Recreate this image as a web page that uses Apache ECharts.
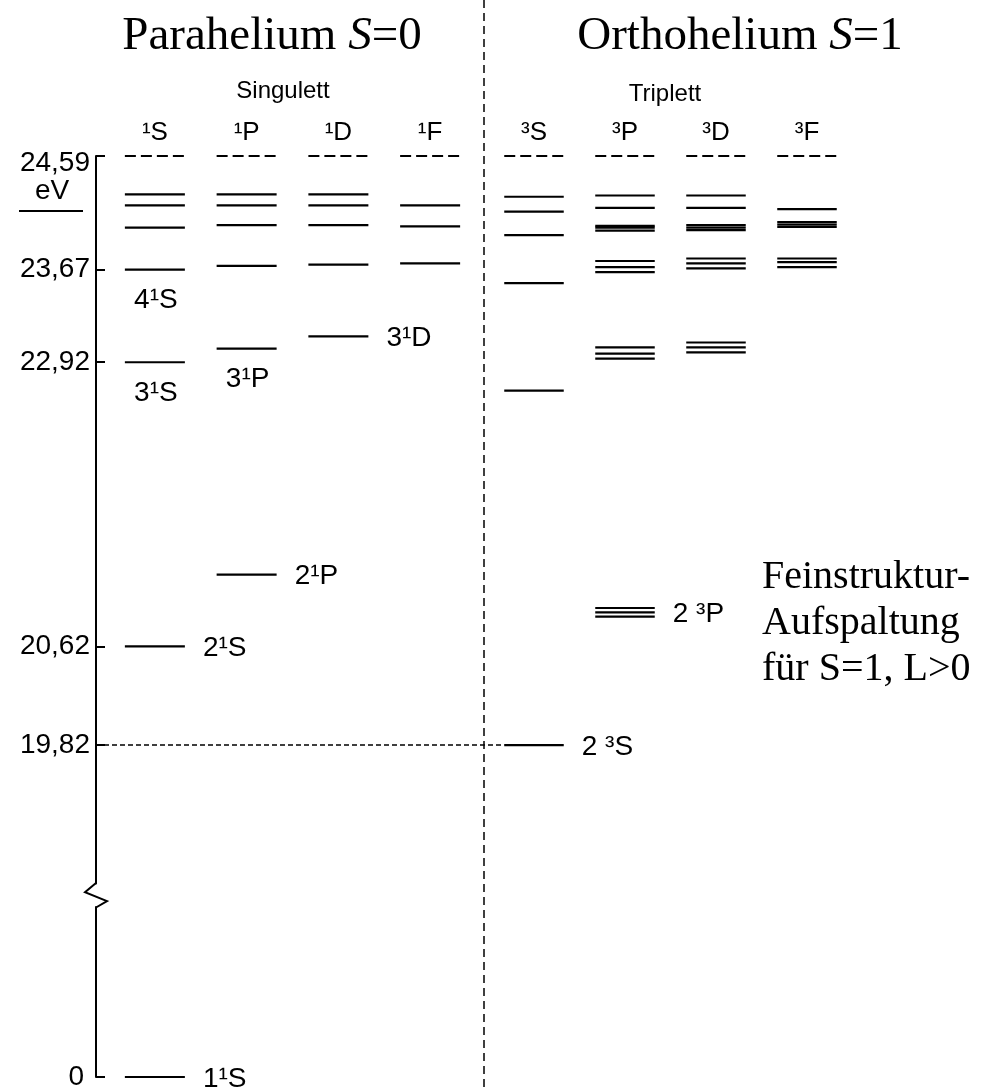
<!DOCTYPE html>
<html><head><meta charset="utf-8">
<script src="https://cdn.jsdelivr.net/npm/echarts@6/dist/echarts.min.js"></script>
<style>html,body{margin:0;padding:0;background:#fff}#c{width:988px;height:1091px}</style>
</head><body><div id="c"></div>
<script>
// ---- data (energies in eV) ----
const singletTerms = ['¹S', '¹P', '¹D', '¹F'];
const tripletTerms = ['³S', '³P', '³D', '³F'];
const ionizationLimit = 24.59;
const levels1S = [24.28, 24.19, 24.01, 23.67, 22.92, 20.62];
const levels1P = [24.28, 24.19, 24.03, 23.70, 23.03, 21.20];
const levels1D = [24.28, 24.19, 24.03, 23.71, 23.13];
const levels1F = [24.19, 24.02, 23.72];
const levels3S = [24.26, 24.14, 23.95, 23.56, 22.69, 19.82];
const levels3P = [24.27, 24.17, 24.025, 24.01, 23.985, 23.74, 23.69, 23.65, 23.04, 22.99, 22.95, 20.93, 20.895, 20.86];
const levels3D = [24.27, 24.17, 24.03, 24.01, 23.99, 23.76, 23.72, 23.68, 23.08, 23.04, 23.00];
const levels3F = [24.16, 24.055, 24.035, 24.015, 23.76, 23.73, 23.69];
const groundLevels = [0];
const tickValues = [24.59, 23.67, 22.92, 20.62, 19.82];
const groundTicks = [0];
// level labels
const singletLabelText = ['4¹S', '3¹S', '3¹P', '3¹D', '2¹P', '2¹S'];
const singletLabelTerm = ['¹S', '¹S', '¹P', '¹D', '¹P', '¹S'];
const singletLabelE = [23.67, 22.92, 23.03, 23.13, 21.20, 20.62];
const singletLabelSide = ['below', 'below', 'below', 'right', 'right', 'right'];
const tripletLabelText = ['2 ³P', '2 ³S'];
const tripletLabelTerm = ['³P', '³S'];
const tripletLabelE = [20.895, 19.82];
const tripletLabelSide = ['right', 'right'];
const groundLabelText = ['1¹S'];
const groundLabelTerm = ['¹S'];
const groundLabelE = [0];
const groundLabelSide = ['right'];
const metastableLevel = 19.82;

// ---- layout / style ----
const SANS = "'Liberation Sans', Arial, Helvetica, sans-serif";
const SERIF = "'Liberation Serif', 'Times New Roman', serif";
const PX_PER_EV = 123.5;
const TOP_MIN = 18.7;
const LEFT_GRID = { left: 109, top: 156, width: 367, height: PX_PER_EV * (ionizationLimit - TOP_MIN) };
const RIGHT_GRID = { left: 488.5, top: 156, width: 364, height: PX_PER_EV * (ionizationLimit - TOP_MIN) };
const LOW_GRID = { left: 109, top: 907, width: 367, height: 170 };
const AXIS_OFFSET = 13;
const HALF = 0.327;

function buildLevels(arrays) {
  const out = [];
  arrays.forEach((arr, i) => {
    out.push([i, ionizationLimit, 1]);
    arr.forEach(e => out.push([i, e, 0]));
  });
  return out;
}
function renderLevel(params, api) {
  const c = api.coord([api.value(0), api.value(1)]);
  const hw = api.size([1, 0])[0] * HALF;
  const dashed = api.value(2) === 1;
  return {
    type: 'line',
    shape: { x1: c[0] - hw, y1: c[1], x2: c[0] + hw, y2: c[1] },
    style: { stroke: '#000', lineWidth: dashed ? 2 : 2.2, lineDash: dashed ? [11, 5] : null }
  };
}
function labelSeries(xi, cats, texts, terms, es, sides) {
  return {
    type: 'custom', xAxisIndex: xi, yAxisIndex: xi, silent: true, z: 5,
    encode: { x: 0, y: 1 },
    data: texts.map((t, i) => [cats.indexOf(terms[i]), es[i]]),
    renderItem: function (params, api) {
      const c = api.coord([api.value(0), api.value(1)]);
      const hw = api.size([1, 0])[0] * HALF;
      const i = params.dataIndex;
      const below = sides[i] === 'below';
      return {
        type: 'text',
        x: below ? c[0] + 1 : c[0] + hw + 18,
        y: below ? c[1] + 31 : c[1] + 2,
        style: { text: texts[i], fill: '#000', font: '28px ' + SANS, align: below ? 'center' : 'left', verticalAlign: 'middle' }
      };
    }
  };
}
const fmt = v => v.toFixed(2).replace('.', ',');

const chart = echarts.init(document.getElementById('c'), null, { renderer: 'canvas' });
const headerLabel = { show: true, color: '#000', fontSize: 26, fontFamily: SANS, margin: 10 };
chart.setOption({
  backgroundColor: '#fff',
  animation: false,
  grid: [LEFT_GRID, RIGHT_GRID, LOW_GRID],
  xAxis: [
    { gridIndex: 0, type: 'category', data: singletTerms, position: 'top', axisLine: { show: false }, axisTick: { show: false }, axisLabel: headerLabel, splitLine: { show: false } },
    { gridIndex: 1, type: 'category', data: tripletTerms, position: 'top', axisLine: { show: false }, axisTick: { show: false }, axisLabel: headerLabel, splitLine: { show: false } },
    { gridIndex: 2, type: 'category', data: singletTerms, show: false }
  ],
  yAxis: [
    {
      gridIndex: 0, type: 'value', min: TOP_MIN, max: ionizationLimit, offset: AXIS_OFFSET,
      axisLine: { show: true, lineStyle: { color: '#000', width: 2 } },
      axisTick: { show: true, inside: true, length: 9, customValues: tickValues, lineStyle: { color: '#000', width: 2 } },
      axisLabel: {
        show: true, customValues: tickValues, color: '#000', fontSize: 28, fontFamily: SANS, margin: 6,
        formatter: v => v === ionizationLimit ? '{top|' + fmt(v) + '}' : fmt(v),
        rich: { top: { fontSize: 28, fontFamily: SANS, color: '#000', padding: [14, 0, 0, 0] } }
      },
      splitLine: { show: false }
    },
    { gridIndex: 1, type: 'value', min: TOP_MIN, max: ionizationLimit, show: false, splitLine: { show: false } },
    {
      gridIndex: 2, type: 'value', min: 0, max: 1.4, offset: AXIS_OFFSET,
      axisLine: { show: true, lineStyle: { color: '#000', width: 2 } },
      axisTick: { show: true, inside: true, length: 9, customValues: groundTicks, lineStyle: { color: '#000', width: 2 } },
      axisLabel: { show: true, customValues: groundTicks, color: '#000', fontSize: 28, fontFamily: SANS, margin: 12, formatter: v => String(v) },
      splitLine: { show: false }
    }
  ],
  series: [
    { type: 'custom', xAxisIndex: 0, yAxisIndex: 0, renderItem: renderLevel, encode: { x: 0, y: 1 }, silent: true,
      data: buildLevels([levels1S, levels1P, levels1D, levels1F]) },
    { type: 'custom', xAxisIndex: 1, yAxisIndex: 1, renderItem: renderLevel, encode: { x: 0, y: 1 }, silent: true,
      data: buildLevels([levels3S, levels3P, levels3D, levels3F]) },
    { type: 'custom', xAxisIndex: 2, yAxisIndex: 2, renderItem: renderLevel, encode: { x: 0, y: 1 }, silent: true,
      data: groundLevels.map(e => [0, e, 0]) },
    labelSeries(0, singletTerms, singletLabelText, singletLabelTerm, singletLabelE, singletLabelSide),
    labelSeries(1, tripletTerms, tripletLabelText, tripletLabelTerm, tripletLabelE, tripletLabelSide),
    labelSeries(2, singletTerms, groundLabelText, groundLabelTerm, groundLabelE, groundLabelSide)
  ]
});

// ---- decorations computed from the axes ----
const axisX = LEFT_GRID.left - AXIS_OFFSET;
const topBottomY = chart.convertToPixel({ yAxisIndex: 0 }, TOP_MIN);
const lowTopY = chart.convertToPixel({ yAxisIndex: 2 }, 1.4);
const metaPt = chart.convertToPixel({ xAxisIndex: 1, yAxisIndex: 1 }, ['³S', metastableLevel]);
const metaLeftPt = chart.convertToPixel({ xAxisIndex: 0, yAxisIndex: 0 }, ['¹S', metastableLevel]);
const bandR = RIGHT_GRID.width / 4;
const zz = topBottomY, zh = lowTopY - topBottomY;
chart.setOption({
  graphic: [
    { type: 'line', silent: true, shape: { x1: 484, y1: 0, x2: 484, y2: 1091 },
      style: { stroke: '#000', lineWidth: 1.5, lineDash: [8, 5] } },
    { type: 'line', silent: true, shape: { x1: axisX, y1: metaLeftPt[1], x2: metaPt[0] - bandR * HALF, y2: metaLeftPt[1] },
      style: { stroke: '#000', lineWidth: 1.5, lineDash: [5, 3] } },
    { type: 'polyline', silent: true,
      shape: { points: [[axisX, zz - 0.5], [axisX - 11, zz + zh * 0.37], [axisX + 11, zz + zh * 0.75], [axisX, lowTopY + 0.5]] },
      style: { stroke: '#000', lineWidth: 2, fill: null } },
    { type: 'text', silent: true, x: 52, y: 191,
      style: { text: 'eV', font: '28px ' + SANS, fill: '#000', align: 'center', verticalAlign: 'middle' } },
    { type: 'line', silent: true, shape: { x1: 19, y1: 211, x2: 83, y2: 211 }, style: { stroke: '#000', lineWidth: 2 } },
    { type: 'text', silent: true, x: 272, y: 37,
      style: { text: '{n|Parahelium }{i|S}{n|=0}', align: 'center', verticalAlign: 'middle', fill: '#000',
        rich: { n: { fontFamily: SERIF, fontSize: 47, fill: '#000' }, i: { fontFamily: SERIF, fontSize: 47, fontStyle: 'italic', fill: '#000' } } } },
    { type: 'text', silent: true, x: 740, y: 37,
      style: { text: '{n|Orthohelium }{i|S}{n|=1}', align: 'center', verticalAlign: 'middle', fill: '#000',
        rich: { n: { fontFamily: SERIF, fontSize: 47, fill: '#000' }, i: { fontFamily: SERIF, fontSize: 47, fontStyle: 'italic', fill: '#000' } } } },
    { type: 'text', silent: true, x: 283, y: 91,
      style: { text: 'Singulett', font: '24px ' + SANS, fill: '#000', align: 'center', verticalAlign: 'middle' } },
    { type: 'text', silent: true, x: 665, y: 94,
      style: { text: 'Triplett', font: '24px ' + SANS, fill: '#000', align: 'center', verticalAlign: 'middle' } },
    { type: 'text', silent: true, x: 762, y: 554,
      style: { text: 'Feinstruktur-\nAufspaltung\nfür S=1, L>0', font: '40px ' + SERIF, lineHeight: 46, fill: '#000', align: 'left', verticalAlign: 'top' } }
  ]
});
</script></body></html>
